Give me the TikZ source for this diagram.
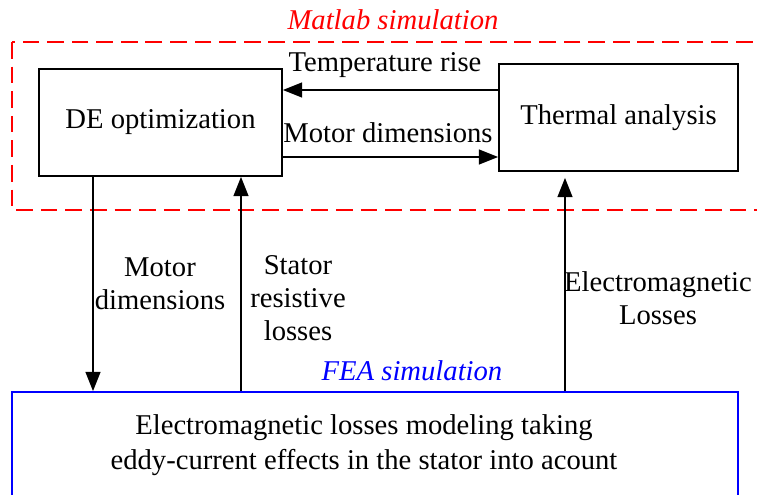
\documentclass[tikz,border=0pt]{standalone}
\usepackage{fontspec}
\setmainfont{Liberation Serif}
\usetikzlibrary{arrows.meta}

\tikzset{
  block/.style={draw,line width=1pt,inner sep=0pt,align=center,minimum height=2.14cm},
  lbl/.style={align=center,inner sep=0pt},
  arr/.style={line width=1pt,-{Triangle[length=11pt,width=8.5pt]}},
  matlabframe/.style={draw=red,line width=1pt,dash pattern=on 9.5pt off 4.5pt},
  feaframe/.style={draw=blue,line width=1pt,inner sep=0pt},
}

\begin{document}
\begin{tikzpicture}[x=0.02cm,y=-0.02cm,font=\fontsize{16.3}{18.6}\selectfont]
    \useasboundingbox (0,0) rectangle (757,494);

    % Matlab part
    \draw[matlabframe] (12,42) rectangle (780,210);
    \node[lbl,text=red,font=\fontsize{16.3}{18.6}\selectfont\itshape] (matlab) at (393,20) {Matlab simulation};

    \node[block,minimum width=4.86cm] (de) at (160.5,122.5) {DE optimization};
    \node[block,minimum width=4.78cm] (thermal) at (618.5,117.5) {Thermal analysis};

    % FEA part
    \node[feaframe,minimum width=14.52cm,minimum height=2.12cm] (fea) at (375,445) {};
    \node[lbl,font=\fontsize{16.3}{20}\selectfont] (featxt) at (364,445)
      {Electromagnetic losses modeling taking\\eddy-current effects in the stator into acount};
    \node[lbl,text=blue,font=\fontsize{16.3}{18.6}\selectfont\itshape] (feaname) at (412,371) {FEA simulation};

    % helper coordinates
    \coordinate (ytemp) at (0,90);
    \coordinate (ydim) at (0,157);
    \coordinate (xdown) at (93,0);
    \coordinate (xstat) at (241,0);
    \coordinate (xem) at (565,0);

    % connectors
    \draw[arr] (thermal.west |- ytemp) -- (de.east |- ytemp);
    \draw[arr] (de.east |- ydim) -- (thermal.west |- ydim);
    \draw[arr] (de.south -| xdown) -- (fea.north -| xdown);
    \draw[arr] (fea.north -| xstat) -- (de.south -| xstat);
    \draw[arr,shorten >=3.4pt] (fea.north -| xem) -- (thermal.south -| xem);

    % labels
    \node[lbl] (ltemp) at (385,65) {Temperature rise};
    \node[lbl] (ldim) at (388,133) {Motor dimensions};
    \node[lbl] (ldown) at (160,284) {Motor\\dimensions};
    \node[lbl] (lstat) at (298,298) {Stator\\resistive\\losses};
    \node[lbl] (lem) at (658,298) {Electromagnetic\\Losses};

  \end{tikzpicture}
\end{document}
